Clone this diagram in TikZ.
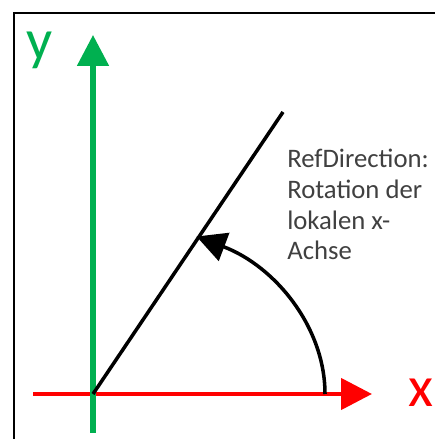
\documentclass[tikz,border=0pt]{standalone}
\usepackage{fontspec}
\setmainfont{Carlito}
\usepackage{xcolor}
\usetikzlibrary{arrows.meta}
\definecolor{axGreen}{RGB}{0,176,80}
\definecolor{axRed}{RGB}{255,0,0}
\definecolor{txtGray}{RGB}{64,64,64}

\begin{document}
\begin{tikzpicture}[
    x=0.025cm, y=0.025cm,
    frame/.style={draw=black, line width=1.3pt},
    yaxis/.style={draw=axGreen, line width=3.6pt,
                  -{Triangle[length=22pt, width=22pt]}},
    xaxis/.style={draw=axRed, line width=3.2pt,
                  -{Triangle[length=22pt, width=22pt]}},
    refline/.style={draw=black, line width=2.5pt},
    refarc/.style={draw=black, line width=2.5pt,
                   -{Triangle[length=21pt, width=21pt]}},
    axlabel/.style={font=\fontsize{41}{41}\selectfont, inner sep=0pt, anchor=base},
    note/.style={font=\fontsize{19}{21.8}\selectfont, text=txtGray,
                 align=left, inner sep=0pt, anchor=north west}
]
% canvas and cropped frame
\useasboundingbox (0,0) rectangle (435,439);
\coordinate (fBot) at (14,0);
\coordinate (fCorner) at (14,426);
\coordinate (fRight) at (435,426);
\draw[frame] (fBot) -- (fCorner) -- (fRight);

% origin and axis end points
\coordinate (O) at (93,45);
\coordinate (yBot) at (93,6);
\coordinate (yTip) at (93,404);
\coordinate (xLeft) at (33,45);
\coordinate (xTip) at (372,45);

% axes
\draw[xaxis] (xLeft) -- (xTip);
\draw[yaxis] (yBot) -- (yTip);

% axis labels
\node[axlabel, text=axRed] (xLab) at (421,32) {x};
\node[axlabel, text=axGreen] (yLab) at (40,379) {y};

% rotated local x-axis
\coordinate (refEnd) at (283,327);
\draw[refline] (O) -- (refEnd);

% rotation arc from x-axis to the local axis
\coordinate (arcStart) at (325,45);
\draw[refarc] (arcStart) arc[start angle=0, end angle=63.5,
                             x radius=232, y radius=176];

% explanation
\node[note] (refText) at (287,290)
    {RefDirection:\\Rotation der\\lokalen x-\\Achse};
\end{tikzpicture}
\end{document}
